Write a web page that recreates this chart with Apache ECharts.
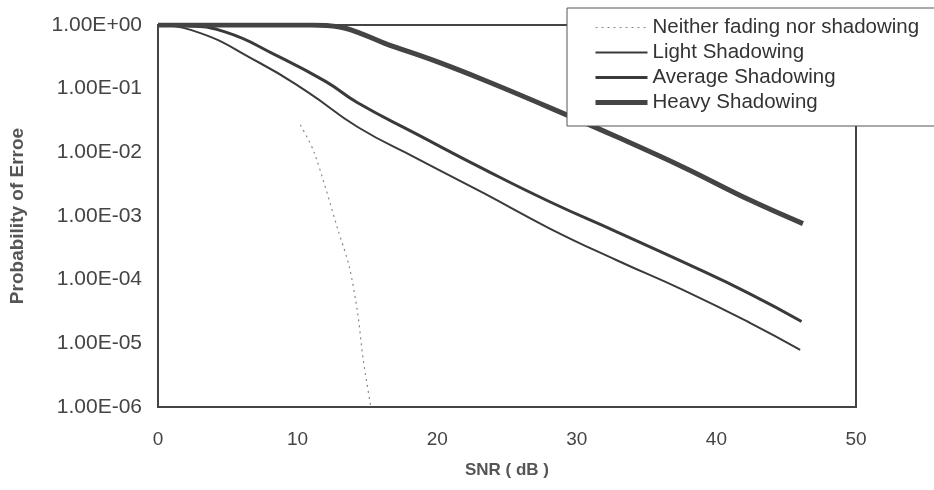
<!DOCTYPE html>
<html>
<head>
<meta charset="utf-8">
<script src="https://cdn.jsdelivr.net/npm/echarts@6/dist/echarts.min.js"></script>
<style>
  html, body { margin: 0; padding: 0; background: #fff; }
  #chart { width: 934px; height: 490px; }
</style>
</head>
<body>
<div id="chart"></div>
<script>
// values (SNR in dB, probability of error)
var seriesNames = ['Neither fading nor shadowing', 'Light Shadowing', 'Average Shadowing', 'Heavy Shadowing'];

var noneSnr = [10.2, 11.2, 12.9, 13.7, 14.3, 14.7, 15.25];
var nonePe  = [0.027, 9.8e-3, 6.0e-4, 1.6e-4, 3.0e-5, 5.5e-6, 1.0e-6];

var lightSnr = [0, 2.4, 7.2, 10.7, 14.3, 18.6, 23.3, 28.1, 32.9, 37.6, 42.4, 46.0];
var lightPe  = [1, 0.83, 0.26, 0.089, 0.025, 7.9e-3, 2.3e-3, 6.3e-4, 2.0e-4, 6.9e-5, 2.1e-5, 7.9e-6];

var avgSnr = [0, 2.0, 4.8, 8.4, 12.0, 14.3, 18.6, 23.3, 28.1, 32.9, 37.6, 42.4, 46.1];
var avgPe  = [1, 0.97, 0.78, 0.34, 0.13, 0.060, 0.019, 5.5e-3, 1.66e-3, 5.6e-4, 1.9e-4, 6.0e-5, 2.2e-5];

var heavySnr = [0, 11, 13, 14.5, 16.2, 19.7, 23.3, 28.1, 32.9, 37.6, 42.4, 46.2];
var heavyPe  = [1, 1, 0.93, 0.74, 0.52, 0.28, 0.138, 0.050, 0.0174, 5.9e-3, 1.78e-3, 7.6e-4];

var xTicks = [0, 10, 20, 30, 40, 50];

function pairs(xs, ys) {
    var out = [];
    for (var i = 0; i < xs.length; i++) out.push([xs[i], ys[i]]);
    return out;
}

// 1e-3 -> "1.00E-03"
function sciLabel(v) {
    var e = Math.round(Math.log10(v));
    var sign = e < 0 ? '-' : '+';
    var n = Math.abs(e);
    return '1.00E' + sign + (n < 10 ? '0' + n : n);
}

var font = 'Liberation Sans, Arial, sans-serif';
var ink = '#3a3a3a';

var myChart = echarts.init(document.getElementById('chart'));

var option = {
    backgroundColor: '#fff',
    animation: false,
    grid: {
        left: 157, right: 78, top: 25, bottom: 83,
        show: true, borderColor: '#444', borderWidth: 2
    },
    legend: {
        data: seriesNames,
        orient: 'vertical',
        left: 567, top: 8,
        padding: [9, 90, 13, 26],
        itemWidth: 52, itemHeight: 14, itemGap: 4,
        backgroundColor: '#fff',
        borderColor: '#555', borderWidth: 1,
        // hide the dot, keep the line at the series width
        itemStyle: { color: 'rgba(0,0,0,0)', borderColor: 'rgba(0,0,0,0)', borderWidth: 0 },
        lineStyle: { width: 'inherit' },
        textStyle: { fontFamily: font, fontSize: 20.5, color: '#333', lineHeight: 20 }
    },
    xAxis: {
        type: 'value',
        min: 0, max: 50, interval: 10,
        name: 'SNR ( dB )',
        nameLocation: 'middle',
        nameGap: 55,
        nameTextStyle: { fontFamily: font, fontSize: 17, fontWeight: 'bold', color: '#555' },
        axisLine: { lineStyle: { color: '#444', width: 2 } },
        axisTick: { show: false },
        splitLine: { show: false },
        axisLabel: {
            margin: 23, fontFamily: font, fontSize: 19, color: '#444',
            formatter: function (v) { return xTicks.indexOf(v) >= 0 ? String(v) : ''; }
        }
    },
    yAxis: {
        type: 'log',
        min: 1e-6, max: 1, logBase: 10,
        name: 'Probability of Erroe',
        nameLocation: 'middle',
        nameGap: 131,
        nameTextStyle: { fontFamily: font, fontSize: 19, fontWeight: 'bold', color: '#555' },
        axisLine: { lineStyle: { color: '#444', width: 2 } },
        axisTick: { show: false },
        splitLine: { show: false },
        axisLabel: {
            margin: 16, fontFamily: font, fontSize: 21, color: '#444',
            formatter: sciLabel
        }
    },
    series: [
        {
            name: seriesNames[0], type: 'line', symbol: 'none', smooth: 0.3,
            data: pairs(noneSnr, nonePe),
            lineStyle: { color: '#888', width: 1.2, type: [2, 4] },
            itemStyle: { color: '#888' }
        },
        {
            name: seriesNames[1], type: 'line', symbol: 'none', smooth: 0.5,
            data: pairs(lightSnr, lightPe),
            lineStyle: { color: ink, width: 2 },
            itemStyle: { color: ink }
        },
        {
            name: seriesNames[2], type: 'line', symbol: 'none', smooth: 0.5,
            data: pairs(avgSnr, avgPe),
            lineStyle: { color: ink, width: 3 },
            itemStyle: { color: ink }
        },
        {
            name: seriesNames[3], type: 'line', symbol: 'none', smooth: 0.4,
            data: pairs(heavySnr, heavyPe),
            lineStyle: { color: '#444', width: 5 },
            itemStyle: { color: '#444' }
        }
    ]
};

myChart.setOption(option);
</script>
</body>
</html>
